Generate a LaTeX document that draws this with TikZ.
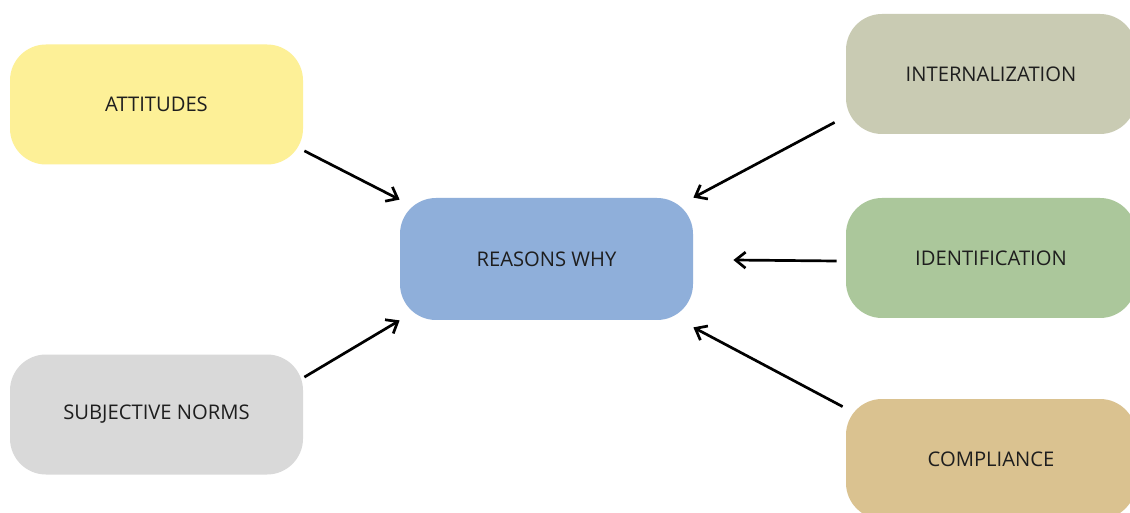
\documentclass[tikz,border=0pt]{standalone}
\usepackage{fontspec}
\setmainfont{Open Sans}
\usetikzlibrary{arrows.meta,calc}
\definecolor{cyellow}{HTML}{FDF097}
\definecolor{cgray}{HTML}{D9D9D9}
\definecolor{cblue}{HTML}{8FAFDA}
\definecolor{cint}{HTML}{C9CBB3}
\definecolor{cide}{HTML}{ABC79B}
\definecolor{ccom}{HTML}{DAC290}
\definecolor{ctext}{HTML}{1E1E1E}
\tikzset{
  box/.style={rounded corners=18pt, minimum width=146.5pt, minimum height=60pt, inner sep=0pt, text=ctext, font=\fontsize{10.1pt}{12pt}\selectfont},
  conn/.style={-{Straight Barb[length=5pt,width=8pt,line width=1.35pt]}, line width=1.35pt, black}
}
\begin{document}
\begin{tikzpicture}[x=0.5pt,y=-0.5pt]
\useasboundingbox (0,0) rectangle (1130,513);
\clip (0,0) rectangle (1130,513);
\fill[white] (0,0) rectangle (1130,513);
\node[box, fill=cyellow] (att) at (156.5,104.5) {ATTITUDES};
\node[box, fill=cgray] (sub) at (156.5,414.5) {SUBJECTIVE NORMS};
\node[box, fill=cblue, minimum height=61pt] (rea) at (546.5,259) {REASONS WHY};
\node[box, fill=cint, minimum width=145pt] (int) at (991,74) {INTERNALIZATION};
\node[box, fill=cide, minimum width=145pt] (ide) at (991,258) {IDENTIFICATION};
\node[box, fill=ccom, minimum width=145pt] (com) at (991,459) {COMPLIANCE};
\coordinate (a1) at ($(att.south east)+(1,-14)$);
\coordinate (a2) at ($(rea.north west)+(0,2)$);
\draw[conn] (a1) -- (a2);
\coordinate (s1) at ($(sub.north east)+(1,23)$);
\coordinate (s2) at ($(rea.south west)+(0,0)$);
\draw[conn] (s1) -- (s2);
\coordinate (i1) at ($(int.south west)+(-11,-12)$);
\coordinate (i2) at ($(rea.north east)+(0,0)$);
\draw[conn] (i1) -- (i2);
\coordinate (d1) at ($(ide.west)+(-9,3)$);
\coordinate (d2) at ($(rea.east)+(40,1)$);
\draw[conn] (d1) -- (d2);
\coordinate (c1) at ($(com.north west)+(-3,8)$);
\coordinate (c2) at ($(rea.south east)+(0,7)$);
\draw[conn] (c1) -- (c2);
\end{tikzpicture}
\end{document}
